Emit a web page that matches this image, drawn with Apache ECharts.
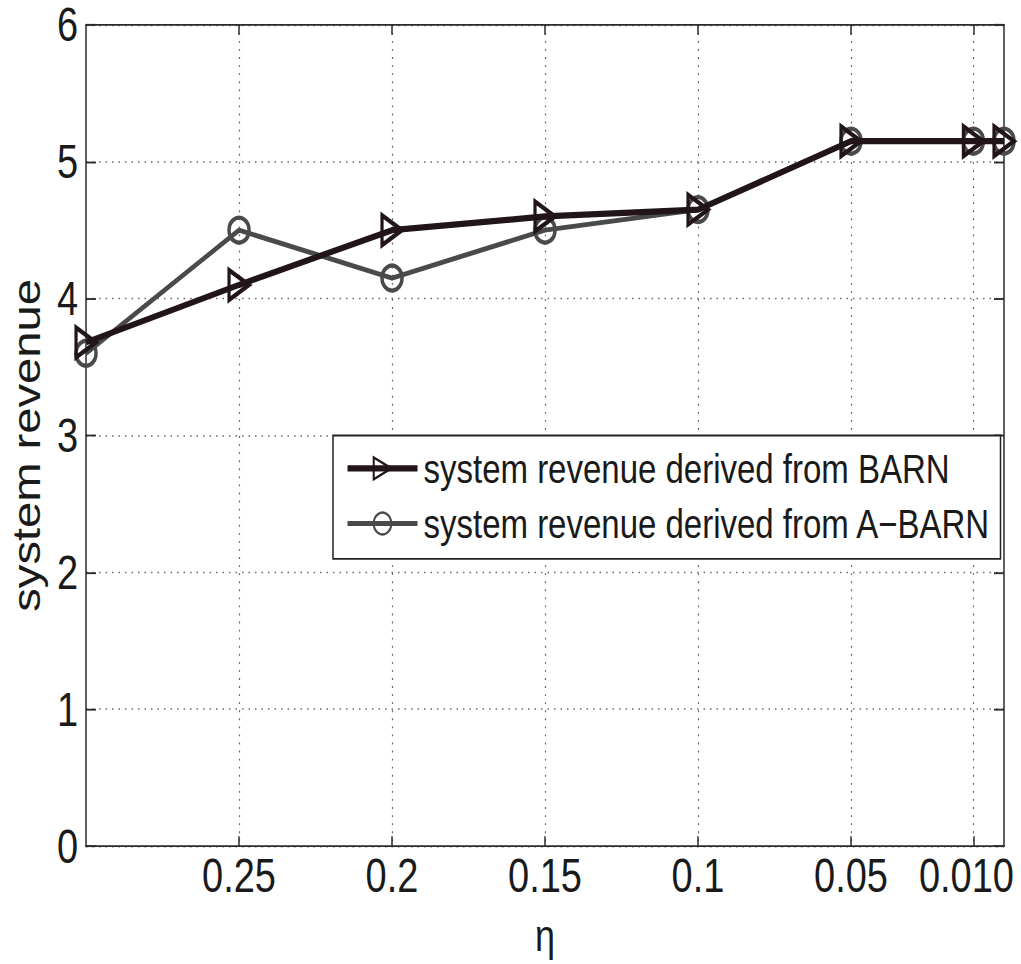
<!DOCTYPE html>
<html>
<head>
<meta charset="utf-8">
<script src="https://cdn.jsdelivr.net/npm/echarts@6/dist/echarts.min.js"></script>
<style>
  html, body { margin: 0; padding: 0; background: #fff; overflow: hidden; }
  #wrap { width: 1021px; height: 964px; overflow: hidden; }
  #chart { width: 1021px; height: 777px; transform: scaleY(1.2407); transform-origin: 0 0; }
</style>
</head>
<body>
<div id="wrap"><div id="chart"></div></div>
<script>
// ---- data ----
const etaValues = [0.3, 0.25, 0.2, 0.15, 0.1, 0.05, 0.01, 0];
const barnRevenue = [3.68, 4.1, 4.5, 4.6, 4.65, 5.15, 5.15, 5.15];
const abarnRevenue = [3.6, 4.5, 4.15, 4.5, 4.65, 5.15, 5.15, 5.15];
const xTickValues = [0.25, 0.2, 0.15, 0.1, 0.05, 0.01];
const xTickLabels = ['0.25', '0.2', '0.15', '0.1', '0.05', '0.010'];
const seriesNames = ['system revenue derived from BARN', 'system revenue derived from A\u2212BARN'];

const font = 'Arial, "Liberation Sans", Helvetica, sans-serif';
const axisColor = '#2b2b2b';
const gridLine = { show: true, lineStyle: { color: '#666', width: 1.2, type: [1.5, 5] } };

const chart = echarts.init(document.getElementById('chart'), null, { renderer: 'svg' });

function labelFor(v) {
  const i = xTickValues.findIndex(t => Math.abs(t - v) < 1e-9);
  if (i < 0) return '';
  return i === xTickValues.length - 1 ? '{s|' + xTickLabels[i] + '}' : xTickLabels[i];
}

const boxLine = { show: true, onZero: false, lineStyle: { color: axisColor, width: 1.5 } };

chart.setOption({
  animation: false,
  backgroundColor: '#fff',
  grid: { left: 84, right: 17, top: 20, bottom: 91, containLabel: false },
  legend: {
    left: 333, top: 351,
    orient: 'vertical',
    padding: [10, 4, 12, 12],
    itemWidth: 70, itemHeight: 22, itemGap: 11.5,
    borderColor: '#222', borderWidth: 1.5, backgroundColor: '#fff',
    symbolRotate: 'inherit',
    lineStyle: { width: 'inherit' },
    textStyle: { fontFamily: font, fontSize: 33, color: '#1a1a1a', lineHeight: 30, width: 573, padding: [0, 0, 0, 1] },
    data: seriesNames
  },
  xAxis: [{
    type: 'value', min: 0, max: 0.3, inverse: true,
    name: '\u03b7', nameLocation: 'middle', nameGap: 54,
    nameTextStyle: { fontFamily: font, fontSize: 36, color: '#1a1a1a' },
    axisLine: boxLine,
    axisTick: { show: true, inside: true, length: 8, customValues: xTickValues, lineStyle: { color: axisColor, width: 1.5 } },
    axisLabel: {
      show: true, margin: 5, customValues: xTickValues,
      fontFamily: font, fontSize: 38, color: '#1a1a1a',
      formatter: labelFor,
      rich: { s: { fontFamily: font, fontSize: 38, color: '#1a1a1a', padding: [0, 14, 0, 0] } }
    },
    splitLine: gridLine
  }, {
    type: 'value', min: 0, max: 0.3, inverse: true, position: 'top',
    axisLine: boxLine,
    axisTick: { show: true, inside: true, length: 8, customValues: xTickValues, lineStyle: { color: axisColor, width: 1.5 } },
    axisLabel: { show: false },
    splitLine: { show: false }
  }],
  yAxis: [{
    type: 'value', min: 0, max: 6, interval: 1,
    name: 'system revenue', nameLocation: 'middle', nameGap: 36,
    nameTextStyle: { fontFamily: font, fontSize: 38, color: '#1a1a1a', padding: [0, 16, 0, 0] },
    axisLine: boxLine,
    axisTick: { show: true, inside: true, length: 10, lineStyle: { color: axisColor, width: 1.5 } },
    axisLabel: { margin: 8, fontFamily: font, fontSize: 38, lineHeight: 30, color: '#1a1a1a' },
    splitLine: gridLine
  }, {
    type: 'value', min: 0, max: 6, interval: 1, position: 'right',
    axisLine: boxLine,
    axisTick: { show: true, inside: true, length: 10, lineStyle: { color: axisColor, width: 1.5 } },
    axisLabel: { show: false },
    splitLine: { show: false }
  }],
  series: [{
    name: seriesNames[1], type: 'line',
    data: etaValues.map((x, i) => [x, abarnRevenue[i]]),
    symbol: 'circle', symbolSize: 20,
    lineStyle: { color: '#4a4a4a', width: 4 },
    itemStyle: { color: 'rgba(255,255,255,0)', borderColor: '#4a4a4a', borderWidth: 3.5 },
    z: 2
  }, {
    name: seriesNames[0], type: 'line',
    data: etaValues.map((x, i) => [x, barnRevenue[i]]),
    symbol: 'triangle', symbolSize: [24, 20], symbolRotate: -90,
    lineStyle: { color: '#221518', width: 5 },
    itemStyle: { color: 'rgba(255,255,255,0)', borderColor: '#221518', borderWidth: 3.5 },
    z: 3
  }]
});
</script>
</body>
</html>
